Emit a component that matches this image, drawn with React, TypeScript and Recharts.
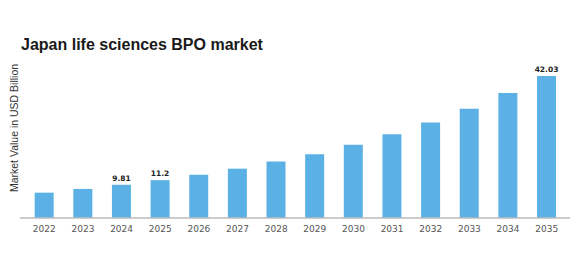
import { BarChart, Bar, XAxis, YAxis, LabelList } from 'recharts'

const years = ['2022', '2023', '2024', '2025', '2026', '2027', '2028', '2029', '2030', '2031', '2032', '2033', '2034', '2035']
const marketValue = [7.5, 8.6, 9.81, 11.2, 12.8, 14.6, 16.7, 18.9, 21.7, 24.8, 28.3, 32.3, 37.0, 42.03]
const shownLabels = ['', '', '9.81', '11.2', '', '', '', '', '', '', '', '', '', '42.03']

const data = years.map((year, i) => ({ year, value: marketValue[i], label: shownLabels[i] }))

export default function App() {
  return (
    <div style={{ position: 'absolute', left: 0, top: 0, width: 580, height: 265, background: '#fff' }}>
      <div
        style={{
          position: 'absolute',
          left: 21,
          top: 36,
          fontFamily: '"Liberation Sans", Arial, sans-serif',
          fontWeight: 'bold',
          fontSize: 16,
          color: '#1a1a1a',
          whiteSpace: 'nowrap',
        }}
      >
        Japan life sciences BPO market
      </div>
      <div
        style={{
          position: 'absolute',
          left: 14,
          top: 128,
          transform: 'translate(-50%, -50%) rotate(-90deg)',
          fontFamily: '"Liberation Sans", Arial, sans-serif',
          fontSize: 10.5,
          color: '#333',
          whiteSpace: 'nowrap',
        }}
      >
        Market Value in USD Billion
      </div>
      <BarChart
        width={580}
        height={265}
        data={data}
        margin={{ top: 76, right: 10, left: 20, bottom: 27 }}
        barCategoryGap="25%"
      >
        <XAxis
          dataKey="year"
          height={20}
          tickLine={false}
          axisLine={{ stroke: '#bbb', strokeWidth: 1.5 }}
          padding={{ left: 5, right: 4 }}
          interval={0}
          tick={{ fontSize: 9, fill: '#555', fontFamily: '"DejaVu Sans", sans-serif' }}
          tickMargin={2}
        />
        <YAxis hide domain={[0, 42.03]} />
        <Bar dataKey="value" fill="#5BB1E6" isAnimationActive={false}>
          <LabelList
            dataKey="label"
            position="top"
            offset={4}
            style={{ fontSize: 7.5, fontWeight: 'bold', fill: '#222', fontFamily: '"DejaVu Sans", sans-serif' }}
          />
        </Bar>
      </BarChart>
    </div>
  )
}
